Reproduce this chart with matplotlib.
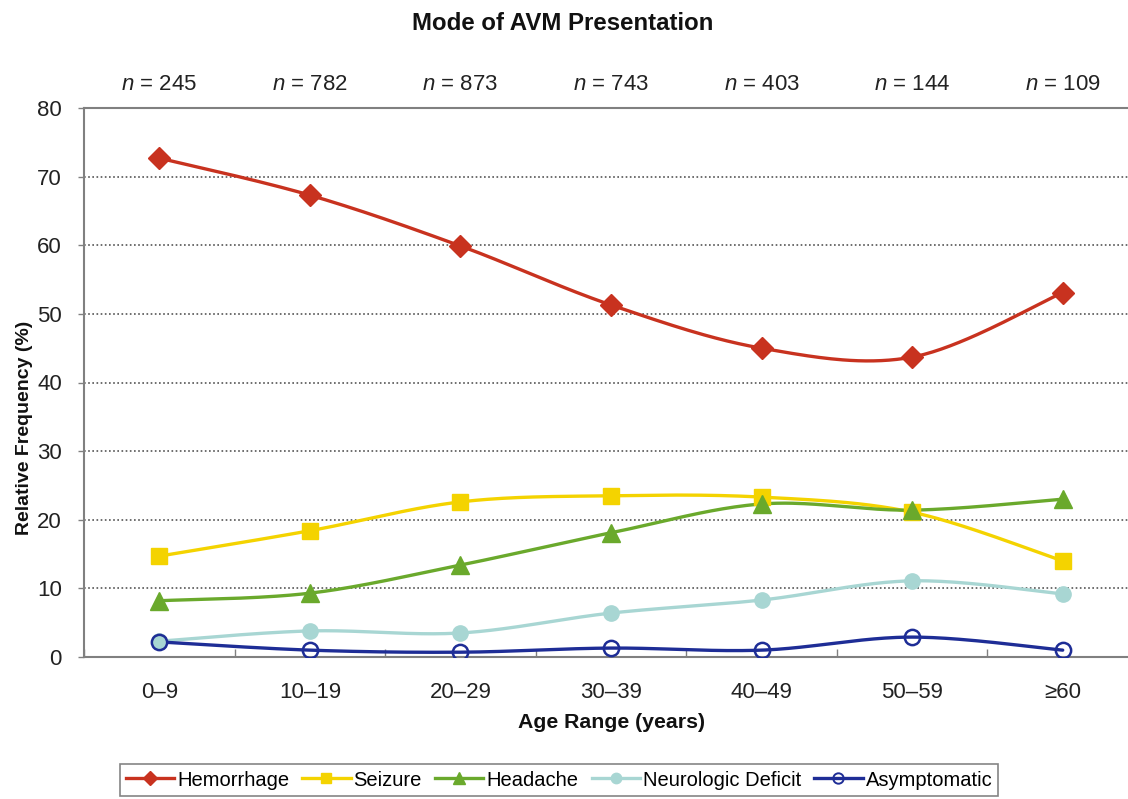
import numpy as np
import matplotlib
matplotlib.use("Agg")
import matplotlib.pyplot as plt
from matplotlib.lines import Line2D

plt.rcParams['font.family'] = ['Liberation Sans', 'DejaVu Sans']
plt.rcParams['mathtext.fontset'] = 'custom'
plt.rcParams['mathtext.it'] = 'Liberation Sans:italic'
plt.rcParams['mathtext.rm'] = 'Liberation Sans'

categories = ['0–9', '10–19', '20–29', '30–39', '40–49', '50–59', '≥60']
n_counts = [245, 782, 873, 743, 403, 144, 109]
hemorrhage = [72.7, 67.3, 59.9, 51.3, 45.0, 43.7, 53.1]
seizure = [14.7, 18.4, 22.6, 23.5, 23.3, 21.1, 14.0]
headache = [8.2, 9.3, 13.4, 18.1, 22.3, 21.4, 23.0]
neuro_deficit = [2.3, 3.8, 3.5, 6.4, 8.3, 11.1, 9.2]
asymptomatic = [2.2, 1.0, 0.7, 1.3, 1.0, 2.9, 1.0]

series = [
    ('Hemorrhage', hemorrhage, '#c8321f', 'D', '#c8321f', 11),
    ('Seizure', seizure, '#f4d300', 's', '#f4d300', 11),
    ('Headache', headache, '#6aa92c', '^', '#6aa92c', 13),
    ('Neurologic Deficit', neuro_deficit, '#a8d6d3', 'o', '#a8d6d3', 11),
    ('Asymptomatic', asymptomatic, '#1e2d96', 'o', 'none', 11),
]


def smooth(x, y, steps=40):
    x = np.asarray(x, float)
    y = np.asarray(y, float)
    px = np.concatenate([[x[0]], x, [x[-1]]])
    py = np.concatenate([[y[0]], y, [y[-1]]])
    xs, ys = [], []
    t = np.linspace(0, 1, steps)
    for i in range(1, len(px) - 2):
        p0 = np.array([px[i], py[i]])
        p3 = np.array([px[i + 1], py[i + 1]])
        c1 = p0 + (np.array([px[i + 1], py[i + 1]]) - np.array([px[i - 1], py[i - 1]])) / 6
        c2 = p3 - (np.array([px[i + 2], py[i + 2]]) - np.array([px[i], py[i]])) / 6
        b = ((1 - t) ** 3)[:, None] * p0 + (3 * (1 - t) ** 2 * t)[:, None] * c1 \
            + (3 * (1 - t) * t ** 2)[:, None] * c2 + (t ** 3)[:, None] * p3
        xs.append(b[:, 0])
        ys.append(b[:, 1])
    return np.concatenate(xs), np.concatenate(ys)


W, H = 1128, 799
fig = plt.figure(figsize=(W / 100, H / 100), dpi=100)
left, right, top, bottom = 84, 1138, 108, 657
ax = fig.add_axes([left / W, 1 - bottom / H, (right - left) / W, (bottom - top) / H])

x = np.arange(len(categories))
handles = []
for name, vals, col, mk, fc, ms in series:
    sx, sy = smooth(x, vals)
    ax.plot(sx, sy, color=col, lw=2.4, solid_capstyle='round', zorder=3)
    ax.plot(x, vals, linestyle='none', marker=mk, markersize=ms,
            markerfacecolor=fc, markeredgecolor=col,
            markeredgewidth=1.8 if fc == 'none' else 1.0, zorder=4)
    handles.append(Line2D([], [], color=col, lw=2.4, marker=mk, markersize=ms * 0.68,
                          markerfacecolor=fc, markeredgecolor=col,
                          markeredgewidth=1.4 if fc == 'none' else 1.0))

ax.set_xlim(-0.5, len(categories) - 0.5)
ax.set_ylim(0, 80)
ax.set_yticks(np.arange(0, 81, 10))
ax.tick_params(axis='y', direction='out', length=4, width=1, color='#808080',
               labelsize=16, pad=12, labelcolor='#222222')
ax.set_xticks(x)
ax.set_xticklabels(categories)
ax.tick_params(axis='x', which='major', length=0, labelsize=16, pad=18, labelcolor='#222222')
ax.set_xticks(np.arange(-0.5, len(categories), 1.0), minor=True)
ax.tick_params(axis='x', which='minor', direction='in', length=6, width=1, color='#808080')

for v in range(10, 80, 10):
    ax.axhline(v, color='#555555', lw=1.2, ls=(0, (1, 1.5)), zorder=1)

for s in ['left', 'top', 'bottom']:
    ax.spines[s].set_color('#808080')
    ax.spines[s].set_linewidth(1.5)
ax.spines['right'].set_visible(False)

for xi, n in zip(x, n_counts):
    ax.text(xi, 80 + 80 * (108 - 85) / (657 - 108), r'$n$ = %d' % n, ha='center', va='center',
            fontsize=16, color='#222222')

fig.text(563 / W, 1 - 23 / H, 'Mode of AVM Presentation', ha='center', va='center',
         fontsize=17.3, fontweight='bold', color='#111111')
fig.text(25 / W, 1 - 428 / H, 'Relative Frequency (%)', ha='center', va='center',
         rotation=90, fontsize=14, fontweight='bold', color='#111111')
fig.text(611 / W, 1 - 723 / H, 'Age Range (years)', ha='center', va='center',
         fontsize=15.3, fontweight='bold', color='#111111')

leg = fig.legend(handles, [s[0] for s in series], ncol=5, loc='center',
                 bbox_to_anchor=(559 / W, 1 - 780 / H), frameon=True, fancybox=False,
                 fontsize=14.5, handlelength=2.4, handletextpad=0.15, columnspacing=0.65,
                 borderpad=0.3, borderaxespad=0, edgecolor='#666666')
leg.get_frame().set_linewidth(1.2)

fig.savefig('out.png', dpi=100, facecolor='white')
